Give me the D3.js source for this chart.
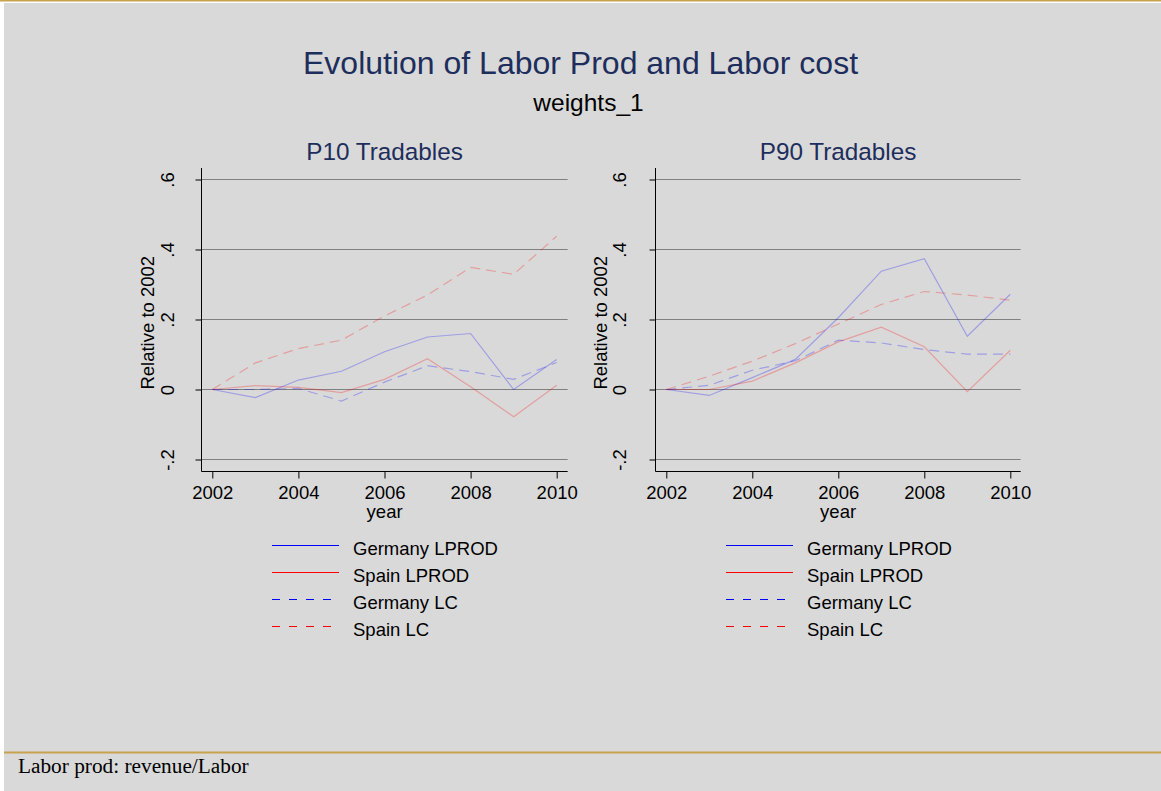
<!DOCTYPE html>
<html>
<head>
<meta charset="utf-8">
<script src="https://cdn.jsdelivr.net/npm/d3@7"></script>
<style>
  html, body { margin: 0; padding: 0; background: #ffffff; }
  svg { display: block; }
</style>
</head>
<body>
<svg id="chart" width="1161" height="791"></svg>
<script>
// ---------------- DATA ----------------
const years = [2002, 2003, 2004, 2005, 2006, 2007, 2008, 2009, 2010];
const yTicks = [-0.2, 0, 0.2, 0.4, 0.6];
const yTickLabels = ["-.2", "0", ".2", ".4", ".6"];
const xTicks = [2002, 2004, 2006, 2008, 2010];

const seriesNames = ["Germany LPROD", "Spain LPROD", "Germany LC", "Spain LC"];
const seriesColors = ["#0000ff", "#ff0000", "#0000ff", "#ff0000"];
const seriesDashed = [false, false, true, true];

// P10 Tradables
const p10GermanyLprod = [0, -0.023, 0.027, 0.052, 0.108, 0.150, 0.160, 0.000, 0.086];
const p10SpainLprod   = [0, 0.011, 0.006, -0.009, 0.029, 0.088, 0.008, -0.078, 0.012];
const p10GermanyLC    = [0, 0.000, 0.003, -0.033, 0.021, 0.068, 0.051, 0.029, 0.077];
const p10SpainLC      = [0, 0.076, 0.117, 0.141, 0.210, 0.270, 0.349, 0.329, 0.438];

// P90 Tradables
const p90GermanyLprod = [0, -0.017, 0.034, 0.086, 0.205, 0.338, 0.374, 0.152, 0.272];
const p90SpainLprod   = [0, 0.000, 0.024, 0.076, 0.136, 0.178, 0.122, -0.006, 0.112];
const p90GermanyLC    = [0, 0.012, 0.055, 0.082, 0.141, 0.133, 0.114, 0.101, 0.101];
const p90SpainLC      = [0, 0.038, 0.081, 0.131, 0.187, 0.243, 0.280, 0.270, 0.255];

const panelTitles = ["P10 Tradables", "P90 Tradables"];
const mainTitle = "Evolution of Labor Prod and Labor cost";
const subTitle = "weights_1";
const yAxisTitle = "Relative to 2002";
const xAxisTitle = "year";
const noteText = "Labor prod: revenue/Labor";

// ---------------- DRAWING ----------------
const svg = d3.select("#chart");
const W = 1161, H = 791;
const SANS = "'Liberation Sans', Arial, Helvetica, sans-serif";
const SERIF = "'Liberation Serif', 'Times New Roman', serif";
const BG = "#d9d9d9";
const GOLD = "#c9a24e";
const NAVY = "#1e2e5c";

// background
svg.append("rect").attr("x", 0).attr("y", 0).attr("width", W).attr("height", H).attr("fill", "#ffffff");
svg.append("rect").attr("x", 4).attr("y", 3).attr("width", W - 4).attr("height", H - 3).attr("fill", BG);
svg.append("rect").attr("x", 0).attr("y", 0).attr("width", W).attr("height", 1.5).attr("fill", GOLD);
svg.append("rect").attr("x", 4).attr("y", 751.5).attr("width", W - 4).attr("height", 2).attr("fill", GOLD);

// titles
svg.append("text").attr("x", 580.5).attr("y", 74).attr("text-anchor", "middle")
  .attr("font-family", SANS).attr("font-size", 32).attr("fill", NAVY).text(mainTitle);
svg.append("text").attr("x", 588.5).attr("y", 111).attr("text-anchor", "middle")
  .attr("font-family", SANS).attr("font-size", 24.5).attr("fill", "#000").text(subTitle);

// note
svg.append("text").attr("x", 18).attr("y", 773).attr("font-family", SERIF)
  .attr("font-size", 21.3).attr("fill", "#000").text(noteText);

const panels = [
  { left: 201.5, right: 567.7, x0: 212.3, x1: 556.7, title: panelTitles[0],
    data: [p10GermanyLprod, p10SpainLprod, p10GermanyLC, p10SpainLC],
    legendX: 272, labelOff: 28, yTitleOff: 47.7 },
  { left: 655.5, right: 1020.7, x0: 666.3, x1: 1010.3, title: panelTitles[1],
    data: [p90GermanyLprod, p90SpainLprod, p90GermanyLC, p90SpainLC],
    legendX: 726, labelOff: 30, yTitleOff: 48.6 }
];

const plotTop = 168, plotBottom = 471.5;
const y = d3.scaleLinear().domain([-0.2, 0.6]).range([459.5, 179.5]);

panels.forEach(p => {
  const x = d3.scaleLinear().domain([2002, 2010]).range([p.x0, p.x1]);
  const g = svg.append("g");

  // gridlines
  g.selectAll("line.grid").data(yTicks).join("line")
    .attr("x1", p.left).attr("x2", p.right)
    .attr("y1", d => y(d)).attr("y2", d => y(d))
    .attr("stroke", "#808080").attr("stroke-width", 1);

  // y axis
  const yAxis = d3.axisLeft(y).tickValues(yTicks)
    .tickFormat((d, i) => yTickLabels[i]).tickSize(6).tickPadding(0);
  const ya = g.append("g").attr("transform", `translate(${p.left},0)`).call(yAxis);
  ya.select(".domain").remove();
  ya.selectAll(".tick line").attr("stroke", "#000").attr("stroke-width", 1);
  ya.selectAll(".tick text")
    .attr("x", null).attr("dy", null)
    .attr("font-family", SANS).attr("font-size", 18.5).attr("fill", "#000")
    .attr("text-anchor", "middle")
    .attr("transform", `translate(${-p.labelOff},0) rotate(-90)`);
  g.append("line").attr("x1", p.left).attr("x2", p.left).attr("y1", plotTop).attr("y2", plotBottom)
    .attr("stroke", "#000").attr("stroke-width", 1);

  // x axis
  const xAxis = d3.axisBottom(x).tickValues(xTicks).tickFormat(d3.format("d")).tickSize(7).tickPadding(0);
  const xa = g.append("g").attr("transform", `translate(0,${plotBottom})`).call(xAxis);
  xa.select(".domain").remove();
  xa.selectAll(".tick line").attr("stroke", "#000").attr("stroke-width", 1);
  xa.selectAll(".tick text").attr("y", 27).attr("dy", null)
    .attr("font-family", SANS).attr("font-size", 18.5).attr("fill", "#000");
  g.append("line").attr("x1", p.left).attr("x2", p.right).attr("y1", plotBottom).attr("y2", plotBottom)
    .attr("stroke", "#000").attr("stroke-width", 1);

  // axis titles
  g.append("text").attr("x", (p.left + p.right) / 2).attr("y", 518).attr("text-anchor", "middle")
    .attr("font-family", SANS).attr("font-size", 18.5).attr("fill", "#000").text(xAxisTitle);
  g.append("text")
    .attr("transform", `translate(${p.left - p.yTitleOff},${(plotTop + plotBottom) / 2 + 3}) rotate(-90)`)
    .attr("text-anchor", "middle")
    .attr("font-family", SANS).attr("font-size", 18.5).attr("fill", "#000").text(yAxisTitle);

  // panel title
  g.append("text").attr("x", (p.left + p.right) / 2).attr("y", 160).attr("text-anchor", "middle")
    .attr("font-family", SANS).attr("font-size", 24.3).attr("fill", NAVY).text(p.title);

  // lines
  const line = d3.line().x((d, i) => x(years[i])).y(d => y(d));
  p.data.forEach((vals, k) => {
    g.append("path").datum(vals)
      .attr("d", line)
      .attr("fill", "none")
      .attr("stroke", seriesColors[k])
      .attr("stroke-opacity", 0.27)
      .attr("stroke-width", 1.2)
      .attr("stroke-dasharray", seriesDashed[k] ? "10,6" : null);
  });

  // legend
  const legendYs = [545.5, 572.5, 599.5, 626.5];
  seriesNames.forEach((name, k) => {
    g.append("line")
      .attr("x1", p.legendX).attr("x2", p.legendX + 67)
      .attr("y1", legendYs[k]).attr("y2", legendYs[k])
      .attr("stroke", seriesColors[k]).attr("stroke-width", 1)
      .attr("stroke-dasharray", seriesDashed[k] ? "8,9" : null);
    g.append("text").attr("x", p.legendX + 81).attr("y", legendYs[k] + 9)
      .attr("font-family", SANS).attr("font-size", 18.5).attr("fill", "#000").text(name);
  });
});
</script>
</body>
</html>
